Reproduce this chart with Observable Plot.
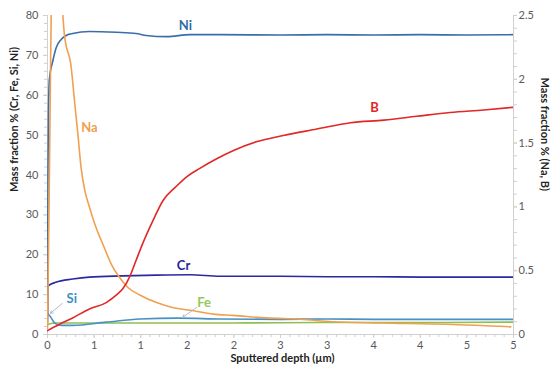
<!DOCTYPE html>
<html><head><meta charset="utf-8">
<script src="https://cdn.jsdelivr.net/npm/d3@7"></script>
<script src="https://cdn.jsdelivr.net/npm/@observablehq/plot@0.6"></script>
<style>
body{margin:0;background:#fff;}
#chart svg{display:block;}
</style>
</head><body><div id="chart"></div>
<script>
// ---- data (x in µm) ----
// Left axis series (mass %, Cr Fe Si Ni)
const niX = [0, 0.005, 0.01, 0.02, 0.057, 0.094, 0.147, 0.2, 0.27, 0.45, 0.74, 0.95, 1.06, 1.28, 1.53, 1.85, 2.5, 3, 3.5, 4, 4.5, 5];
const niY = [5, 40, 55, 64, 68.6, 72, 74, 75, 75.5, 76, 75.8, 75.5, 75, 74.7, 75.2, 75.2, 75.1, 75.2, 75.1, 75.2, 75.1, 75.2];
const crX = [0, 0.003, 0.015, 0.09, 0.27, 0.45, 0.81, 1.17, 1.53, 1.85, 2.5, 3, 3.5, 4, 4.5, 5];
const crY = [3, 12, 12.3, 13.1, 13.9, 14.4, 14.7, 14.9, 15, 14.6, 14.6, 14.5, 14.5, 14.4, 14.4, 14.4];
const siX = [0, 0.005, 0.03, 0.08, 0.15, 0.27, 0.63, 0.99, 1.4, 1.85, 2.5, 3, 3.5, 4, 4.5, 5];
const siY = [5.3, 5.2, 4.5, 2.8, 2.3, 2.3, 3.1, 3.9, 4.1, 3.9, 3.8, 3.9, 3.8, 3.8, 3.8, 3.8];
const feX = [0, 0.05, 0.1, 0.5, 1, 2, 3, 4, 5];
const feY = [2.5, 2.8, 2.9, 2.9, 2.9, 2.9, 3.0, 3.0, 3.1];
// Right axis series (mass %, Na B)
const naX = [0, 0.015, 0.03, 0.045, 0.08, 0.12, 0.165, 0.18, 0.255, 0.29, 0.326, 0.36, 0.40, 0.45, 0.52, 0.61, 0.685, 0.77, 0.86, 0.99, 1.17, 1.35, 1.53, 1.78, 1.99, 2.35, 2.71, 3.06, 3.57, 4.29, 4.97];
const naY = [0.05, 0.9, 1.9, 2.8, 3.2, 3.0, 2.5, 2.36, 2.09, 1.83, 1.57, 1.31, 1.13, 1.0, 0.84, 0.68, 0.55, 0.45, 0.37, 0.31, 0.25, 0.21, 0.19, 0.16, 0.15, 0.13, 0.12, 0.10, 0.09, 0.08, 0.06];
const bX = [0, 0.13, 0.27, 0.45, 0.63, 0.74, 0.81, 0.88, 0.95, 1.02, 1.13, 1.24, 1.38, 1.5, 1.63, 1.81, 1.99, 2.24, 2.53, 2.89, 3.25, 3.61, 3.96, 4.32, 4.68, 4.99];
const bY = [0.03, 0.08, 0.13, 0.2, 0.25, 0.31, 0.36, 0.45, 0.58, 0.71, 0.89, 1.05, 1.16, 1.24, 1.30, 1.375, 1.44, 1.51, 1.56, 1.61, 1.66, 1.68, 1.71, 1.74, 1.76, 1.78];

// ticks
const xTicks = [0, 0.5, 1, 1.5, 2, 2.5, 3, 3.5, 4, 4.5, 5];
const leftTicks = [0, 10, 20, 30, 40, 50, 60, 70, 80];
const rightTicks = [0, 0.5, 1, 1.5, 2, 2.5];

// series labels (positions in data units, left axis)
const labelNames = ["Ni", "Na", "B", "Cr", "Si", "Fe"];
const labelX = [1.48, 0.45, 3.51, 1.46, 0.26, 1.68];
const labelY = [77.4, 51.9, 56.9, 17.3, 9.0, 8.0];
const labelColors = ["#2f6ca8", "#f0a050", "#e02828", "#262699", "#3d8fc4", "#92c85a"];
// leader arrows for Si and Fe
const arrowX1 = [0.16, 1.60], arrowY1 = [7.8, 6.8], arrowX2 = [0.03, 1.45], arrowY2 = [5.3, 4.3];

const RATIO = 80 / 2.5;
const colors = {Ni: "#3a6ea8", Cr: "#2a2aa0", Si: "#4a90c4", Fe: "#8cc152", Na: "#f0a050", B: "#e02828"};
function series(xs, ys, k = 1) { return xs.map((x, i) => ({x, y: ys[i] * k})); }
const data = {
  Fe: series(feX, feY), Si: series(siX, siY), Cr: series(crX, crY), Ni: series(niX, niY),
  B: series(bX, bY, RATIO), Na: series(naX, naY, RATIO)
};
const labels = labelNames.map((n, i) => ({n, x: labelX[i], y: labelY[i], c: labelColors[i]}));
const arrows = arrowX1.map((d, i) => ({x1: d, y1: arrowY1[i], x2: arrowX2[i], y2: arrowY2[i]}));

const range = (a, b, s) => d3.range(Math.round(a / s), Math.round(b / s) + 1).map(i => +(i * s).toFixed(6));
const axisCol = "#d0d0d0", textCol = "#595959";
const font = "Lato, 'Open Sans', sans-serif";

const lineMarks = ["Fe", "Si", "Cr", "Ni", "Na", "B"].map(k =>
  Plot.line(data[k], {x: "x", y: "y", stroke: colors[k], strokeWidth: 1.6, clip: true, curve: "monotone-x"}));

const chart = Plot.plot({
  width: 560, height: 376,
  marginLeft: 47, marginRight: 47, marginTop: 15, marginBottom: 42,
  style: {fontFamily: font, fontSize: "11px", color: textCol, background: "#fff"},
  x: {domain: [0, 5], axis: null},
  y: {domain: [0, 80], axis: null},
  marks: [
    Plot.ruleY([0], {stroke: axisCol}),
    Plot.ruleX([0], {stroke: axisCol}),
    Plot.ruleX([5], {stroke: axisCol}),
    Plot.axisX(range(0, 5, 0.1), {tickSize: 3, tickFormat: () => "", stroke: axisCol, label: null}),
    Plot.axisX(xTicks, {tickSize: 4, tickPadding: 3, stroke: axisCol, fill: textCol, label: null, fontSize: 11}),
    Plot.axisY(range(0, 80, 2), {anchor: "left", tickSize: 3, tickFormat: () => "", stroke: axisCol, label: null}),
    Plot.axisY(leftTicks, {anchor: "left", tickSize: 4, tickPadding: 5, stroke: axisCol, fill: textCol, label: null, fontSize: 11}),
    Plot.axisY(range(0, 2.5, 0.1).map(v => v * RATIO), {anchor: "right", tickSize: 3, tickFormat: () => "", stroke: axisCol, label: null}),
    Plot.axisY(rightTicks.map(v => v * RATIO), {anchor: "right", tickSize: 3, tickPadding: 2, stroke: axisCol, fill: textCol, label: null, fontSize: 11, tickFormat: d => String(+(d / RATIO).toFixed(2))}),
    ...lineMarks,
    Plot.arrow(arrows, {x1: "x1", y1: "y1", x2: "x2", y2: "y2", stroke: "#a8b8cc", strokeWidth: 0.9, headLength: 5, bend: false}),
    Plot.text(labels, {x: "x", y: "y", text: "n", fill: "c", fontSize: 13, fontWeight: "bold"}),
    Plot.text(["Mass fraction % (Cr, Fe, Si, Ni)"], {frameAnchor: "left", rotate: -90, dx: -33, dy: 17, fontSize: 11, fontWeight: "bold", fill: "#222"}),
    Plot.text(["Mass fraction % (Na, B)"], {frameAnchor: "right", rotate: 90, dx: 31, dy: 16, fontSize: 11, fontWeight: "bold", fill: "#222"}),
    Plot.text(["Sputtered depth (µm)"], {frameAnchor: "bottom", dy: 27, dx: 2, fontSize: 11, fontWeight: "bold", fill: "#222"})
  ]
});
document.getElementById("chart").appendChild(chart);
</script>
</body></html>
